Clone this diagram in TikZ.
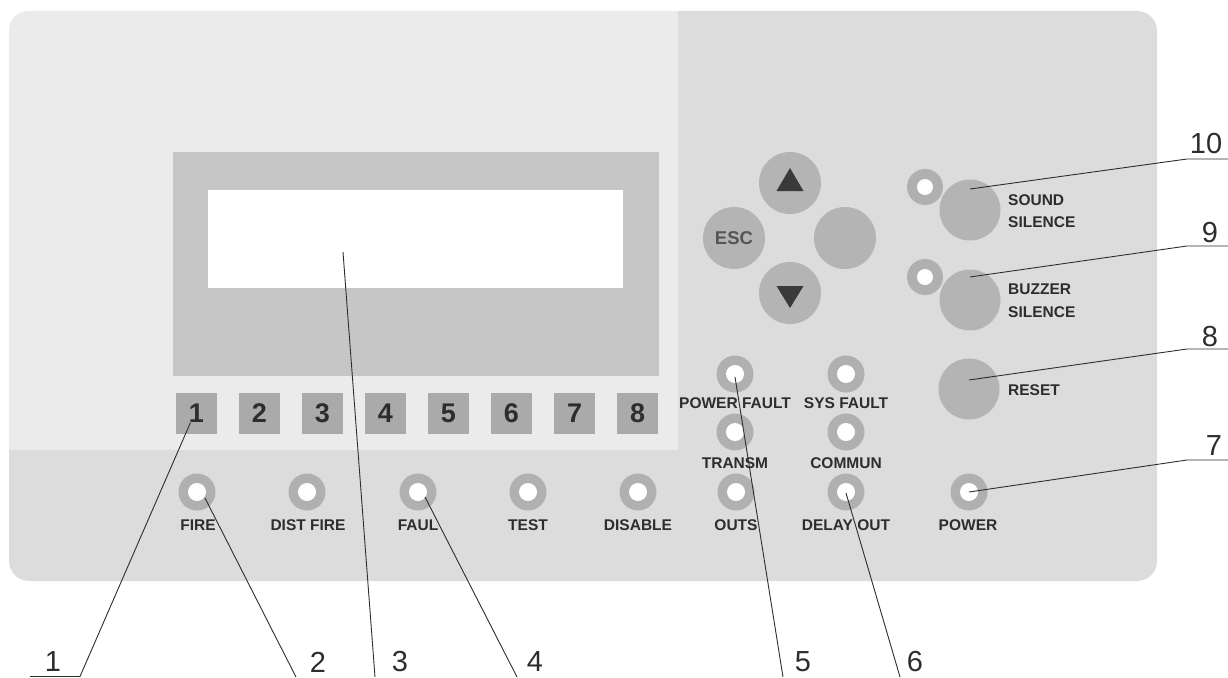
\documentclass[tikz,border=0pt]{standalone}
\usepackage{fontspec}
\setmainfont{Liberation Sans}
\usetikzlibrary{calc}
\definecolor{panelL}{RGB}{234,235,234}
\definecolor{panelD}{RGB}{219,220,219}
\definecolor{bezel}{RGB}{198,198,198}
\definecolor{keyc}{RGB}{170,170,170}
\definecolor{ring}{RGB}{176,176,176}
\definecolor{btn}{RGB}{180,180,180}
\definecolor{ink}{RGB}{45,45,45}
\definecolor{esc}{RGB}{85,85,85}
\definecolor{tri}{RGB}{58,58,58}
\begin{document}
\begin{tikzpicture}[x=1pt,y=-1pt,
  led/.style={circle, fill=ring, minimum size=37pt, inner sep=0pt,
    path picture={\fill[white] (path picture bounding box.center) circle (9pt);}},
  lbl/.style={font=\fontsize{15.5}{18}\bfseries\selectfont, text=ink, inner sep=0pt},
  callnum/.style={font=\fontsize{29}{32}\selectfont, text=ink, inner sep=0pt},
  lead/.style={draw=ink, line width=0.9pt},
  keybox/.style={fill=keyc, minimum size=41pt, inner sep=0pt, font=\fontsize{27}{29}\bfseries\selectfont, text=ink},
  bigbtn/.style={circle, fill=btn, minimum size=61pt, inner sep=0pt},
  tristy/.style={fill=tri}]
\useasboundingbox (0,0) rectangle (1228,677);
% panel
\fill[panelD, rounded corners=20pt] (9,11) rectangle (1157,581);
\begin{scope}
  \clip[rounded corners=20pt] (9,11) rectangle (1157,581);
  \fill[panelL] (9,11) rectangle (678,450);
\end{scope}
% display
\fill[bezel] (173,152) rectangle (659,376);
\node[fill=white, minimum width=415pt, minimum height=98pt, inner sep=0pt] (disp) at (415.5,239) {};
% number keys
\foreach \i in {1,...,8} {
  \node[keybox] (k\i) at ({196.5+63*(\i-1)},413.5) {\i};
}
% bottom row LEDs
\node[led] (fire) at (197,492) {};
\node[led] (dist) at (307,492) {};
\node[led] (faul) at (418,492) {};
\node[led] (test) at (528,492) {};
\node[led] (disab) at (638,492) {};
\node[led] (outs) at (736,492) {};
\node[led] (delay) at (846,492) {};
\node[led] (power) at (969,492) {};
\node[lbl] at (198,525) {FIRE};
\node[lbl] at (308,525) {DIST FIRE};
\node[lbl] at (418,525) {FAUL};
\node[lbl] at (528,525) {TEST};
\node[lbl] at (638,525) {DISABLE};
\node[lbl] at (736,525) {OUTS};
\node[lbl] at (846,525) {DELAY OUT};
\node[lbl] at (968,525) {POWER};
% status LEDs
\node[led] (pfault) at (735,374) {};
\node[led] (sfault) at (846,374) {};
\node[led] (transm) at (735,432) {};
\node[led] (commun) at (846,432) {};
\node[lbl] at (735,403) {POWER FAULT};
\node[lbl] at (846,403) {SYS FAULT};
\node[lbl] at (735,463) {TRANSM};
\node[lbl] at (846,463) {COMMUN};
% keypad
\node[bigbtn, minimum size=62pt] (up) at (790,183) {};
\node[bigbtn, minimum size=62pt] (down) at (790,293) {};
\node[bigbtn, minimum size=62pt, font=\fontsize{18.5}{20}\bfseries\selectfont, text=esc] (escb) at (734,238) {ESC};
\node[bigbtn, minimum size=62pt] (enter) at (845,238) {};
\fill[tristy] (790,168) -- (776.5,191) -- (803.5,191) -- cycle;
\fill[tristy] (776.5,286) -- (803.5,286) -- (790,308) -- cycle;
% right column
\node[led, minimum size=36pt, path picture={\fill[white] (path picture bounding box.center) circle (8pt);}] (sled) at (925,187) {};
\node[bigbtn] (sound) at (970,210) {};
\node[led, minimum size=36pt, path picture={\fill[white] (path picture bounding box.center) circle (8pt);}] (bled) at (925,277) {};
\node[bigbtn] (buzzer) at (970,300) {};
\node[bigbtn] (reset) at (969,389) {};
\node[lbl, anchor=west] at (1008,200) {SOUND};
\node[lbl, anchor=west] at (1008,222) {SILENCE};
\node[lbl, anchor=west] at (1008,289) {BUZZER};
\node[lbl, anchor=west] at (1008,312) {SILENCE};
\node[lbl, anchor=west] at (1008,390) {RESET};
% callout coordinates
\coordinate (p3) at (343,252);
\coordinate (e1) at (80,676.5);  \coordinate (f1) at (30,676.5);
\coordinate (e2) at (296,677);
\coordinate (e3) at (375,677);
\coordinate (e4) at (517,677);
\coordinate (e5) at (783,677);
\coordinate (e6) at (900,677);
\coordinate (e10) at (1187,159); \coordinate (f10) at (1228,159);
\coordinate (e9) at (1187,246);  \coordinate (f9) at (1228,246);
\coordinate (e8) at (1187,349);  \coordinate (f8) at (1228,349);
\coordinate (e7) at (1187,460);  \coordinate (f7) at (1228,460);
% callout leaders
\draw[lead] ($(k1.center)+(-6,9)$) -- (e1) -- (f1);
\draw[lead] ($(fire.center)+(8,6)$) -- (e2);
\draw[lead] (p3) -- (e3);
\draw[lead] ($(faul.center)+(7,5)$) -- (e4);
\draw[lead] ($(pfault.center)+(0,3)$) -- (e5);
\draw[lead] ($(delay.center)+(0,1)$) -- (e6);
\draw[lead] ($(sound.center)+(0,-21)$) -- (e10) -- (f10);
\draw[lead] ($(buzzer.center)+(0,-23)$) -- (e9) -- (f9);
\draw[lead] ($(reset.center)+(0,-9)$) -- (e8) -- (f8);
\draw[lead] (power.center) -- (e7) -- (f7);
% callout numbers
\node[callnum] (n1) at (53,662) {1};
\node[callnum] (n2) at (318,662) {2};
\node[callnum] (n3) at (400,662) {3};
\node[callnum] (n4) at (535,662) {4};
\node[callnum] (n5) at (803,662) {5};
\node[callnum] (n6) at (915,662) {6};
\node[callnum] (n10) at (1206,144) {10};
\node[callnum] (n9) at (1210,233) {9};
\node[callnum] (n8) at (1210,337) {8};
\node[callnum] (n7) at (1214,446) {7};
\end{tikzpicture}
\end{document}
